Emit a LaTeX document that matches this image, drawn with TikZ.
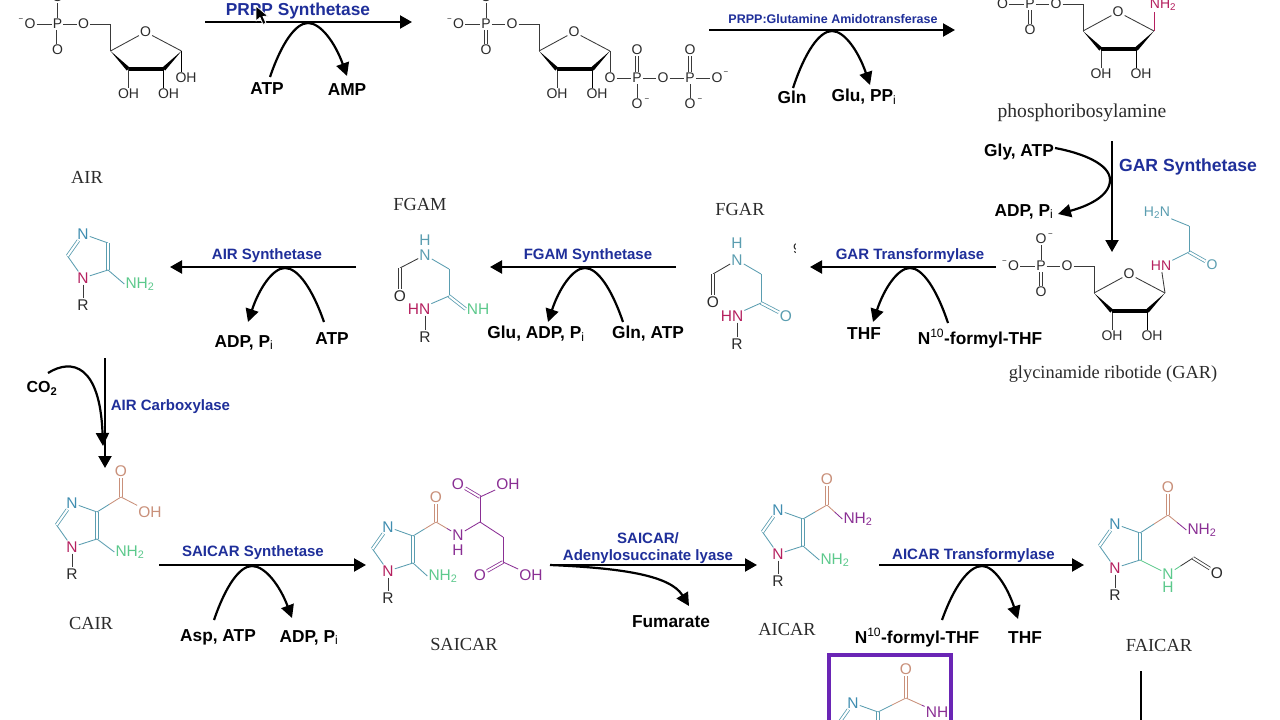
\documentclass[tikz,border=0pt]{standalone}
\usepackage{fontspec}
\setmainfont{Liberation Sans}
\newfontfamily\capfont{Liberation Serif}
\usetikzlibrary{arrows.meta,calc}
\definecolor{atomk}{HTML}{2B2B2B}
\definecolor{bondk}{HTML}{3A3A3A}
\definecolor{enz}{HTML}{1F2F9A}
\definecolor{tealc}{HTML}{5A9DB0}
\definecolor{nblue}{HTML}{3F8DB0}
\definecolor{crim}{HTML}{B5205F}
\definecolor{salm}{HTML}{C9907A}
\definecolor{greenc}{HTML}{5CC98C}
\definecolor{purp}{HTML}{8A2F94}
\definecolor{boxp}{HTML}{6A25B5}
\tikzset{
  atom/.style={inner sep=1pt,font=\fontsize{14}{14}\selectfont},
  atomb/.style={inner sep=1pt,font=\fontsize{15.5}{15}\selectfont},
  bond/.style={line width=0.85pt},
  dbond/.style={line width=0.8pt,double=white,double distance=2pt},
  mainarrow/.style={line width=2.1pt,-{Triangle[length=12pt,width=13pt]}},
  plainline/.style={line width=2.1pt},
  archline/.style={line width=2.2pt,-{Triangle[length=13pt,width=13pt]}},
  enzl/.style={text=enz,inner sep=0pt,yshift=-1.5pt,font=\bfseries\fontsize{15}{15}\selectfont},
  cof/.style={text=black,inner sep=0pt,yshift=-0.5pt,font=\bfseries\fontsize{17.3}{18}\selectfont},
  captxt/.style={text=atomk,inner sep=0pt,yshift=-1.5pt,font=\capfont\fontsize{18.4}{19}\selectfont},
  minusg/.style={inner sep=0pt,text=atomk,font=\fontsize{8}{8}\selectfont},
}
\newcommand\atm[4][atomk]{\node[atom,text=#1] (#2) at (#3) {#4};}
\newcommand\atb[4][atomk]{\node[atomb,text=#1] (#2) at (#3) {#4};}
\newcommand\bd[3][bondk]{\draw[bond,draw=#1] (#2) -- (#3);}
\newcommand\dbd[3][bondk]{\draw[dbond,draw=#1] (#2) -- (#3);}
\newcommand\gb[4]{\draw[bond,draw=#3] (#1) -- ($(#1)!.5!(#2)$);\draw[bond,draw=#4] (#2) -- ($(#1)!.5!(#2)$);}
\newcommand\subi{\textsubscript{\mdseries i}}
\newcommand\supten{\textsuperscript{\mdseries 10}}
\newcommand\arch[7]{%
  \coordinate (#1s) at (#2,#3);\coordinate (#1p) at (#4,#5);\coordinate (#1t) at (#6,#7);
  \draw[archline] (#1s) .. controls ({#2+.3*(#4-#2)},{#3+.62*(#5-#3)}) and ({#4-.33*(#4-#2)},#5) .. (#1p)
    .. controls ({#4+.33*(#6-#4)},#5) and ({#6-.3*(#6-#4)},{#7+.62*(#5-#7)}) .. (#1t);}
% phosphate + ribose, origin at P
\newcommand\ribose[3]{%
\begin{scope}[shift={(#2,#3)}]
  \atm{#1P}{0,0}{P}\atm{#1Ol}{-27.5,0}{O}\atm{#1Or}{26,0}{O}\atm{#1Ob}{0,26}{O}
  \node[minusg] (#1m) at (-36.5,-4) {−};
  \coordinate (#1c5) at (53,0);\coordinate (#1c4) at (53,27);\coordinate (#1c3) at (71,45);
  \coordinate (#1c2) at (106,45);\coordinate (#1c1) at (124,27);
  \atm{#1Or2}{88,8}{O}\atm{#1h3}{71,70}{OH}\atm{#1h2}{111,70}{OH}
  \bd{#1Ol}{#1P}\bd{#1P}{#1Or}\dbd{#1P}{#1Ob}
  \bd{#1Or}{#1c5}\bd{#1c5}{#1c4}\bd{#1c4}{#1Or2}\bd{#1Or2}{#1c1}
  \bd{#1c3}{#1h3}\draw[bond] (#1c2) -- (#1h2.north -| #1c2);
  \fill[black] (#1c4) -- (69.3,46.6) -- (72.2,43.6) -- cycle;
  \fill[black] (#1c1) -- (104.8,43.6) -- (107.6,46.6) -- cycle;
  \draw[line width=3.1pt,black] (#1c3) -- (#1c2);
\end{scope}}
% imidazole, origin at N1
\newcommand\imid[4][tealc]{%
\begin{scope}[shift={(#3,#4)}]
  \atb[crim]{#2N1}{0,0}{N}\atb[nblue]{#2N3}{0,-44}{N}\atb{#2R}{0,27}{R}
  \coordinate (#2C2) at (-15.5,-22);\coordinate (#2C4) at (25,-35);\coordinate (#2C5) at (25,-8);
  \bd[#1]{#2N1}{#2C2}\dbd[#1]{#2C2}{#2N3}\bd[#1]{#2N3}{#2C4}\dbd[#1]{#2C4}{#2C5}\bd[#1]{#2C5}{#2N1}
  \bd{#2N1}{#2R}
\end{scope}}
\begin{document}
\begin{tikzpicture}[x=1pt,y=-1pt]
\useasboundingbox (0,0) rectangle (1280,720);
\clip (0,0) rectangle (1280,720);
\fill[white] (0,0) rectangle (1280,720);

% ---------- ribose phosphates
\ribose{a}{57.5}{24}
\atm{aOt}{57.5,-3}{O}\bd{aP}{aOt}
\atm{aOH}{186,78}{OH}
\draw[bond] (ac1) -- (aOH.north -| ac1);
\ribose{b}{486}{24}
\atm{bOt0}{486,-3}{O}\bd{bP}{bOt0}
\atm{bO}{610,78}{O}\atm{bP2a}{637,78}{P}\atm{bOt}{637,50}{O}\atm{bOb}{637,104}{O}\atm{bO2}{663,78}{O}
\atm{bP2}{690,78}{P}\atm{bOt2}{690,50}{O}\atm{bOb2}{690,104}{O}\atm{bOr2}{717,78}{O}
\node[minusg] (bm1) at (647,100) {−};\node[minusg] (bm2) at (700,100) {−};\node[minusg] (bm3) at (726,73) {−};
\bd{bc1}{bO}\bd{bO}{bP2a}\bd{bP2a}{bO2}\bd{bO2}{bP2}\bd{bP2}{bOr2}\dbd{bP2a}{bOt}\dbd{bP2}{bOt2}\bd{bP2a}{bOb}\bd{bP2}{bOb2}
\ribose{c}{1030}{4}
\atm[crim]{cNH}{1163,5}{NH\textsubscript{2}}
\draw[bond,draw=crim] (cc1) -- (cNH.south -| cc1);
\node[captxt,font=\capfont\fontsize{19.6}{20}\selectfont] (capPRA) at (1082,111) {phosphoribosylamine};
\ribose{g}{1041}{266}
\atm{gOt}{1041,239}{O}\bd{gP}{gOt}
\node[minusg] (gm2) at (1050.5,235) {−};
\atm[crim]{gHN}{1161,266}{HN}\coordinate (gC) at (1189,252);\coordinate (gCH) at (1189,226);
\atm[tealc]{gO}{1212,265}{O}\atm[tealc]{gNH}{1157,213}{H\textsubscript{2}N}
\bd{gc1}{gHN}\bd[tealc]{gHN}{gC}\dbd[tealc]{gC}{gO}\bd[tealc]{gC}{gCH}\bd[tealc]{gCH}{gNH}
\node[captxt] (capGAR) at (1113,373) {glycinamide ribotide (GAR)};

% ---------- FGAR
\node[captxt] (capFGAR) at (740,208) {FGAR};
\atb[tealc]{fH}{737,243}{H}\atb[tealc]{fN}{737,260}{N}\coordinate (fC1) at (713,274);\atb{fO}{713,302}{O}
\coordinate (fCH) at (761,274);\coordinate (fC2) at (761,303);\atb[tealc]{fO2}{786,316}{O}
\atb[crim]{fHN}{732,316}{HN}\atb{fR}{737,344}{R}
\bd[tealc]{fN}{fCH}\bd[tealc]{fCH}{fC2}\dbd[tealc]{fC2}{fO2}\bd[tealc]{fC2}{fHN}
\bd{fN}{fC1}\dbd{fC1}{fO}\bd{fHN.south -| fR}{fR}
\begin{scope}
\clip (786,240) rectangle (795.5,258);
\node[atom,text=atomk] (stray) at (797,249) {9};
\end{scope}

% ---------- FGAM
\node[captxt] (capFGAM) at (420,203) {FGAM};
\atb[tealc]{mH}{425,240}{H}\atb[tealc]{mN}{425,255}{N}\coordinate (mC1) at (400,268);\atb{mO}{400,296}{O}
\coordinate (mCH) at (449,269);\coordinate (mC2) at (449,296);\atb[greenc]{mNH}{478,309}{NH}
\atb[crim]{mHN}{419,309}{HN}\atb{mR}{425,337}{R}
\bd[tealc]{mN}{mCH}\bd[tealc]{mCH}{mC2}\dbd[tealc]{mC2}{mNH.west}\bd[tealc]{mC2}{mHN}
\bd{mN}{mC1}\dbd{mC1}{mO}\bd{mHN.south -| mR}{mR}

% ---------- AIR
\node[captxt] (capAIR) at (87,176) {AIR};
\imid{i}{83}{278}
\atb[greenc]{iNH}{140,284}{NH\textsubscript{2}}
\bd[tealc]{iC5}{iNH.west}

% ---------- CAIR
\node[captxt] (capCAIR) at (91,622) {CAIR};
\imid{k}{72}{547}
\coordinate (kC) at (121,497);\atb[salm]{kO}{121,471}{O}\atb[salm]{kOH}{150,512}{OH}
\atb[greenc]{kNH}{130,552}{NH\textsubscript{2}}
\gb{kC4}{kC}{tealc}{salm}\dbd[salm]{kC}{kO}\bd[salm]{kC}{kOH}\bd[tealc]{kC5}{kNH.west}

% ---------- SAICAR
\node[captxt] (capSAI) at (464,643) {SAICAR};
\imid{s}{388}{571}
\atb[greenc]{sNH}{443,576}{NH\textsubscript{2}}\bd[tealc]{sC5}{sNH.west}
\coordinate (sC) at (436,522);\atb[salm]{sO}{436,497}{O}\atb[purp]{sN}{458,535}{N}\atb[purp]{sH}{458,550}{H}
\coordinate (sCH) at (480,522);\coordinate (sC1) at (480,497);\atb[purp]{sO1}{458,484}{O}\atb[purp]{sOH1}{508,484}{OH}
\coordinate (sCH2) at (503,537);\coordinate (sC2) at (503,562);\atb[purp]{sO2}{480,575}{O}\atb[purp]{sOH2}{531,575}{OH}
\gb{sC4}{sC}{tealc}{salm}\dbd[salm]{sC}{sO}\gb{sC}{sN}{salm}{purp}
\bd[purp]{sN}{sCH}\bd[purp]{sCH}{sC1}\dbd[purp]{sC1}{sO1}\bd[purp]{sC1}{sOH1}
\bd[purp]{sCH}{sCH2}\bd[purp]{sCH2}{sC2}\dbd[purp]{sC2}{sO2}\bd[purp]{sC2}{sOH2}

% ---------- AICAR
\node[captxt] (capAIC) at (787,628) {AICAR};
\imid{t}{778}{554}
\coordinate (tC) at (827,505);\atb[salm]{tO}{827,479}{O}\atb[purp]{tNH}{858,519}{NH\textsubscript{2}}
\atb[greenc]{tNH2}{835,560}{NH\textsubscript{2}}
\gb{tC4}{tC}{tealc}{salm}\dbd[salm]{tC}{tO}\gb{tC}{tNH.west}{salm}{purp}\bd[tealc]{tC5}{tNH2.west}

% ---------- FAICAR
\node[captxt] (capFAI) at (1159,644) {FAICAR};
\imid{u}{1115}{568}
\coordinate (uC) at (1168,515);\atb[salm]{uO}{1168,487}{O}\atb[purp]{uNH}{1202,530}{NH\textsubscript{2}}
\atb[greenc]{uN}{1168,574}{N}\atb[greenc]{uH}{1168,587}{H}\coordinate (uCO) at (1193,558);\atb{uO2}{1217,573}{O}
\gb{uC4}{uC}{tealc}{salm}\dbd[salm]{uC}{uO}\gb{uC}{uNH.west}{salm}{purp}
\bd[greenc]{uC5}{uN}\gb{uN}{uCO}{greenc}{bondk}\dbd{uCO}{uO2}

% ---------- boxed molecule
\node[draw=boxp,line width=3.5pt,minimum width=122pt,minimum height=90pt,inner sep=0pt,anchor=north west] (box) at (827,653) {};
\imid{v}{853}{747}
\coordinate (vC) at (906,698);\atb[salm]{vO}{906,669}{O}\atb[purp]{vNH}{937,712}{NH}
\gb{vC4}{vC}{tealc}{salm}\dbd[salm]{vC}{vO}\gb{vC}{vNH}{salm}{purp}

% ---------- reaction 1
\coordinate (r1a) at (205,22);\coordinate (r1b) at (412,22);
\node[enzl,yshift=1.5pt,font=\bfseries\fontsize{17.3}{18}\selectfont] (e1) at (298,11) {PRPP Synthetase};
\draw[mainarrow] (r1a) -- (r1b);
\arch{q1}{270}{77}{308}{23}{347}{76}
\node[cof] (atp1) at (267,88) {ATP};\node[cof] (amp1) at (347,89) {AMP};
\draw[white,line width=0.8pt,fill=black,line join=round] (256,6) -- (256,21) -- (260,17.5) -- (263,24.5) -- (266,23) -- (263,16.5) -- (268,16) -- cycle;

% ---------- reaction 2
\coordinate (r2a) at (709,30);\coordinate (r2b) at (955,30);
\node[enzl,font=\bfseries\fontsize{12.5}{13}\selectfont] (e2) at (833,18) {PRPP:Glutamine Amidotransferase};
\draw[mainarrow] (r2a) -- (r2b);
\arch{q2}{793}{88}{832}{31}{870}{85}
\node[cof] (gln) at (792,97) {Gln};\node[cof] (glu) at (864,96) {Glu, PP\subi};

% ---------- reaction 3
\coordinate (r3a) at (1112,141);\coordinate (r3b) at (1112,252);
\node[enzl,font=\bfseries\fontsize{17.6}{18}\selectfont] (e3) at (1188,165) {GAR Synthetase};
\draw[mainarrow] (r3a) -- (r3b);
\node[cof] (gly) at (1019,152) {Gly, ATP};\node[cof] (adp3) at (1024,211) {ADP, P\subi};
\coordinate (q3s) at (1055,148);\coordinate (q3p) at (1110,180);\coordinate (q3t) at (1058,214);
\draw[archline] (q3s) .. controls (1082,153) and (1110,164) .. (q3p) .. controls (1110,197) and (1085,207) .. (q3t);

% ---------- reaction 4
\coordinate (r4a) at (996,267);\coordinate (r4b) at (810,267);
\node[enzl] (e4) at (910,254) {GAR Transformylase};
\draw[mainarrow] (r4a) -- (r4b);
\arch{q4}{948}{323}{910}{268}{873}{322}
\node[cof] (thf4) at (864,333) {THF};\node[cof] (n4) at (980,338) {N\supten-formyl-THF};

% ---------- reaction 5
\coordinate (r5a) at (676,267);\coordinate (r5b) at (490,267);
\node[enzl] (e5) at (588,254) {FGAM Synthetase};
\draw[mainarrow] (r5a) -- (r5b);
\arch{q5}{623}{322}{585}{268}{548}{322}
\node[cof] (glu5) at (536,333) {Glu, ADP, P\subi};\node[cof] (gln5) at (648,333) {Gln, ATP};

% ---------- reaction 6
\coordinate (r6a) at (356,267);\coordinate (r6b) at (170,267);
\node[enzl] (e6) at (267,254) {AIR Synthetase};
\draw[mainarrow] (r6a) -- (r6b);
\arch{q6}{324}{322}{285}{268}{248}{322}
\node[cof] (adp6) at (244,342) {ADP, P\subi};\node[cof] (atp6) at (332,338) {ATP};

% ---------- reaction 7
\coordinate (r7a) at (105,358);\coordinate (r7b) at (105,468);
\node[enzl] (e7) at (170.5,405) {AIR Carboxylase};
\draw[mainarrow] (r7a) -- (r7b);
\node[cof,font=\bfseries\fontsize{16}{17}\selectfont] (co2) at (42,388) {CO\textsubscript{2}};
\coordinate (q7s) at (48,373);\coordinate (q7t) at (103,446);
\draw[archline] (q7s) .. controls (72,358) and (100,365) .. (q7t);

% ---------- reaction 8
\coordinate (r8a) at (159,565);\coordinate (r8b) at (366,565);
\node[enzl] (e8) at (253,551) {SAICAR Synthetase};
\draw[mainarrow] (r8a) -- (r8b);
\arch{q8}{214}{620}{252}{566}{292}{618}
\node[cof] (asp) at (218,637) {Asp, ATP};\node[cof] (adp8) at (309,637) {ADP, P\subi};

% ---------- reaction 9
\coordinate (r9a) at (550,565);\coordinate (r9b) at (757,565);
\node[enzl] (e9a) at (648,537) {SAICAR/};\node[enzl] (e9b) at (648,555.5) {Adenylosuccinate lyase};
\draw[mainarrow] (r9a) -- (r9b);
\coordinate (q9t) at (689,606);
\draw[archline] (r9a) .. controls (620,568) and (670,575) .. (q9t);
\node[cof] (fum) at (671,621) {Fumarate};

% ---------- reaction 10
\coordinate (r10a) at (879,565);\coordinate (r10b) at (1084,565);
\node[enzl] (e10) at (973.5,554) {AICAR Transformylase};
\draw[mainarrow] (r10a) -- (r10b);
\arch{q10}{942}{620}{982}{566}{1018}{619}
\node[cof] (n10) at (917,637) {N\supten-formyl-THF};\node[cof] (thf10) at (1025,637) {THF};

% ---------- line below FAICAR
\coordinate (r11a) at (1141,671);\coordinate (r11b) at (1141,722);
\draw[plainline] (r11a) -- (r11b);
\end{tikzpicture}
\end{document}
